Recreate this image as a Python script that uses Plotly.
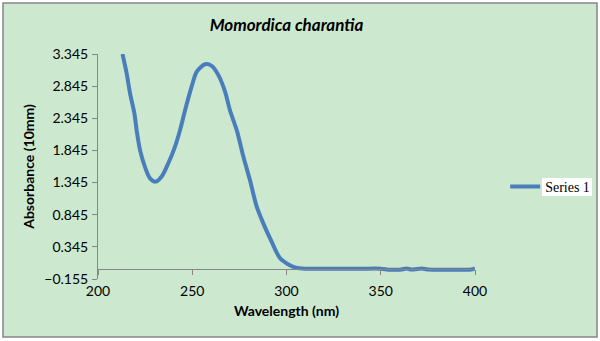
import plotly.graph_objects as go

wavelength = [213.0, 215.2, 217.0, 219.3, 220.5, 222.3, 224.9, 227.6, 230.6, 233.8,
              237.3, 240.8, 243.5, 246.2, 249.7, 252.4, 256.8, 260.3, 263.8, 267.4,
              270.0, 273.6, 277.1, 280.6, 284.2, 287.7, 292.1, 296.6, 301.5, 305.0,
              310.0, 320.0, 330.0, 340.0, 350.0, 354.0, 358.0, 361.0, 363.7, 366.0,
              368.0, 371.7, 375.0, 380.0, 390.0, 398.0, 400.0]
absorbance = [3.345, 3.045, 2.733, 2.42, 2.16, 1.85, 1.59, 1.41, 1.36, 1.44,
              1.645, 1.90, 2.16, 2.47, 2.84, 3.07, 3.185, 3.16, 3.02, 2.76,
              2.47, 2.16, 1.75, 1.385, 0.97, 0.71, 0.425, 0.167, 0.063, 0.02,
              0.005, 0.005, 0.005, 0.005, 0.005, -0.01, -0.012, -0.008, 0.01, -0.008,
              -0.005, 0.01, -0.008, -0.01, -0.01, -0.008, 0.01]
series_name = "Series 1"
title_text = "Momordica charantia"
x_title = "Wavelength (nm)"
y_title = "Absorbance (10mm)"

Y_MIN, Y_MAX = -0.155, 3.345
BG = "#CCE8CF"
AX = "#868686"
FONT = "Lato"

fig = go.Figure()
fig.add_trace(go.Scatter(x=wavelength, y=absorbance, mode="lines", name=series_name,
                         line=dict(color="#4A7EBB", width=4, shape="spline", smoothing=0.8)))

fig.update_layout(
    width=600, height=341,
    margin=dict(l=98, r=125, t=54, b=62, autoexpand=False),
    paper_bgcolor="white",
    plot_bgcolor="rgba(0,0,0,0)",
    title=dict(text="<b><i>" + title_text + "</i></b>", x=0.5, xref="paper", xanchor="center",
               y=1 - 25 / 341, yref="container", yanchor="middle",
               font=dict(family=FONT, size=17, color="black")),
    showlegend=True,
    legend=dict(x=1.08, y=0.409, xanchor="left", yanchor="middle", bgcolor="rgba(0,0,0,0)",
                font=dict(family="Liberation Serif", size=14, color="black"),
                itemwidth=30, tracegroupgap=0),
    xaxis=dict(range=[200, 400], tick0=200, dtick=50, showgrid=False, zeroline=False,
               showline=True, linecolor=AX, linewidth=1, ticks="outside", ticklen=5,
               tickcolor=AX, anchor="free", position=(0 - Y_MIN) / (Y_MAX - Y_MIN),
               ticklabelstandoff=4, automargin=False,
               tickfont=dict(family=FONT, size=14, color="black"),
               title=dict(text="<b>" + x_title + "</b>", standoff=8,
                          font=dict(family=FONT, size=14, color="black"))),
    yaxis=dict(range=[Y_MIN, Y_MAX], tick0=Y_MIN, dtick=0.5, tickformat=".3f",
               showgrid=False, zeroline=False, automargin=False,
               showline=True, linecolor=AX, linewidth=1, ticks="outside", ticklen=5,
               tickcolor=AX, ticklabelstandoff=1,
               tickfont=dict(family=FONT, size=14, color="black"),
               title=dict(text="<b>" + y_title + "</b>", standoff=6,
                          font=dict(family=FONT, size=14, color="black"))),
)

# chart area background and border
fig.add_shape(type="rect", xref="paper", yref="paper", layer="below",
              x0=(3 - 98) / 377, x1=(597 - 98) / 377,
              y0=(279 - 337) / 225, y1=(279 - 3) / 225,
              fillcolor=BG, line=dict(color=AX, width=1.5))
# white box behind legend text
fig.add_shape(type="rect", xref="paper", yref="paper", layer="below",
              x0=(542 - 98) / 377, x1=(592 - 98) / 377,
              y0=(279 - 196) / 225, y1=(279 - 178) / 225,
              fillcolor="white", line=dict(width=0))

fig.write_html("out.html", config={"displayModeBar": False},
               post_script="document.body.style.margin='0px';document.body.style.overflow='hidden';")
